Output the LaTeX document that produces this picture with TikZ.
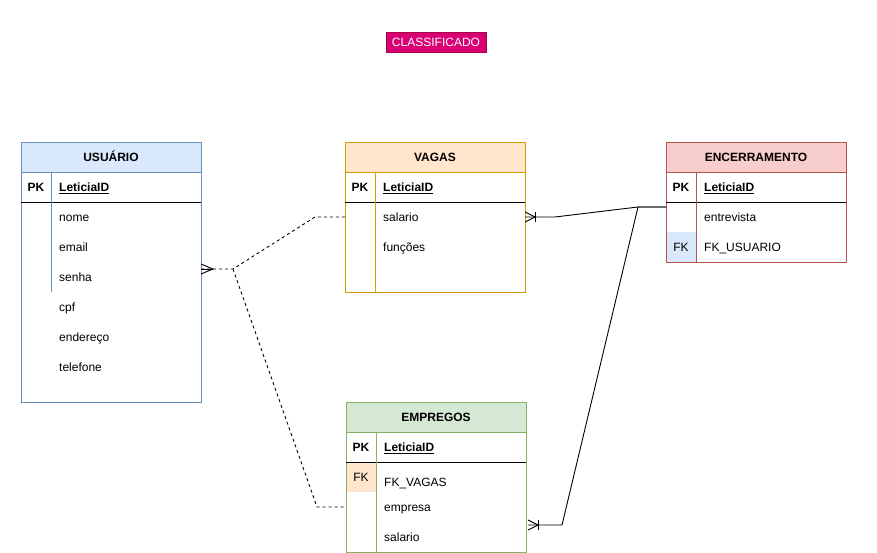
\documentclass[tikz,border=0pt]{standalone}
\usepackage{fontspec}
\setmainfont{Liberation Sans}
\begin{document}
\begin{tikzpicture}[x=1pt,y=-1pt,
  every node/.style={font=\fontsize{12}{14}\selectfont, inner sep=0pt},
  hdr/.style={draw=#1, anchor=north west, minimum width=180pt, minimum height=30pt, font=\fontsize{12}{14}\selectfont\bfseries},
  tbl/.style={draw=#1, anchor=north west, minimum width=180pt},
  fld/.style={anchor=base west, yshift=-4.3pt},
  key/.style={anchor=base, yshift=-4.3pt},
  bld/.style={font=\fontsize{12}{14}\selectfont\bfseries},
  rel/.style={line width=0.9pt, black},
  reldash/.style={line width=0.9pt, black, dash pattern=on 3pt off 3pt},
  ftag/.style={anchor=north west, minimum width=30pt, minimum height=30pt}
]
\useasboundingbox (0,0) rectangle (877,553);
\fill[white] (0,0) rectangle (877,553);

\definecolor{usrfill}{HTML}{DAE8FC}\definecolor{usrline}{HTML}{6C8EBF}
\definecolor{vagfill}{HTML}{FFE6CC}\definecolor{vagline}{HTML}{D79B00}
\definecolor{encfill}{HTML}{F8CECC}\definecolor{encline}{HTML}{B85450}
\definecolor{empfill}{HTML}{D5E8D4}\definecolor{empline}{HTML}{82B366}
\definecolor{clsfill}{HTML}{D80073}\definecolor{clsline}{HTML}{A50040}

% CLASSIFICADO
\node[draw=clsline, fill=clsfill, minimum width=100pt, minimum height=20pt, anchor=north west] (cls) at (386,32) {};
\node[key, text=white] (clst) at (436,42) {CLASSIFICADO};

% ---------- USUARIO ----------
\node[tbl=usrline, minimum height=260pt] (usr) at (21,142) {};
\node[hdr=usrline, fill=usrfill] (usrh) at (21,142) {};
\node[key, bld] (usrht) at (111,157) {USUÁRIO};
\draw[black] (21,202) -- (201,202);
\draw[usrline] (51,172) -- (51,292);
\node[key, bld] (usrpk) at (36,187) {PK};
\node[fld, bld] (usrid) at (59,187) {\underline{LeticiaID}};
\node[fld] (usr1) at (59,217) {nome};
\node[fld] (usr2) at (59,247) {email};
\node[fld] (usr3) at (59,277) {senha};
\node[fld] (usr4) at (59,307) {cpf};
\node[fld] (usr5) at (59,337) {endereço};
\node[fld] (usr6) at (59,367) {telefone};

% ---------- VAGAS ----------
\node[tbl=vagline, minimum height=150pt] (vag) at (345,142) {};
\node[hdr=vagline, fill=vagfill] (vagh) at (345,142) {};
\node[key, bld] (vaght) at (435,157) {VAGAS};
\draw[black] (345,202) -- (525,202);
\draw[vagline] (375,172) -- (375,292);
\node[key, bld] (vagpk) at (360,187) {PK};
\node[fld, bld] (vagid) at (383,187) {\underline{LeticiaID}};
\node[fld] (vag1) at (383,217) {salario};
\node[fld] (vag2) at (383,247) {funções};

% ---------- ENCERRAMENTO ----------
\node[ftag, fill=usrfill] (encfk) at (666,232) {};
\node[tbl=encline, minimum height=120pt] (enc) at (666,142) {};
\node[hdr=encline, fill=encfill] (ench) at (666,142) {};
\node[key, bld] (encht) at (756,157) {ENCERRAMENTO};
\draw[black] (666,202) -- (846,202);
\draw[encline] (696,172) -- (696,262);
\node[key, bld] (encpk) at (681,187) {PK};
\node[fld, bld] (encid) at (704,187) {\underline{LeticiaID}};
\node[fld] (enc1) at (704,217) {entrevista};
\node[key] (encfkt) at (681,247) {FK};
\node[fld] (enc2) at (704,247) {FK\_USUARIO};

% ---------- EMPREGOS ----------
\node[ftag, fill=vagfill] (empfk) at (346,462) {};
\node[tbl=empline, minimum height=150pt] (emp) at (346,402) {};
\node[hdr=empline, fill=empfill] (emph) at (346,402) {};
\node[key, bld] (empht) at (436,417) {EMPREGOS};
\draw[black] (346,462) -- (526,462);
\draw[empline] (376,432) -- (376,552);
\node[key, bld] (emppk) at (361,447) {PK};
\node[fld, bld] (empid) at (384,447) {\underline{LeticiaID}};
\node[key] (empfkt) at (361,477) {FK};
\node[fld] (emp1) at (384,482) {FK\_VAGAS};
\node[fld] (emp2) at (384,507) {empresa};
\node[fld] (emp3) at (384,537) {salario};

% ---------- connectors ----------
\coordinate (uA) at (201,269);
\coordinate (uB) at (233,269);
\coordinate (vIn) at (345,217);
\coordinate (eIn) at (346,507);
\coordinate (vOut) at (525,217);
\coordinate (pOut) at (528,525);
\coordinate (cJ) at (638,207);
\coordinate (cEnd) at (666,207);

% dashed from USUARIO
\draw[reldash] (uA) -- (uB) -- (315,217) -- (vIn);
\draw[reldash] (uB) -- (317,507) -- (eIn);
% crow's foot (many) at USUARIO
\draw[rel] (201,264) -- (213,269) -- (201,274);
\draw[rel] (201,269) -- (213,269);

% solid from VAGAS
\draw[rel] (vOut) -- (555,217) -- (cJ) -- (cEnd);
\draw[rel] (525,212) -- (535,217) -- (525,222);
\draw[rel] (535,212) -- (535,222);

% solid from EMPREGOS
\draw[rel] (pOut) -- (562,525) -- (cJ) -- (cEnd);
\draw[rel] (528,520) -- (538,525) -- (528,530);
\draw[rel] (538,520) -- (538,530);
\end{tikzpicture}
\end{document}
